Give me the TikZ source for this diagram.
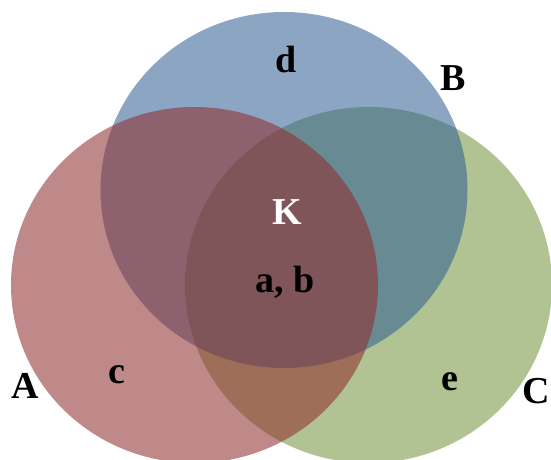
\documentclass[tikz,border=0pt]{standalone}
\usepackage{fontspec}
\setmainfont{Liberation Serif}
\usepackage{tikz}

\definecolor{setred}{RGB}{145,47,47}
\definecolor{setblue}{RGB}{51,96,149}
\definecolor{setgreen}{RGB}{117,149,63}

\begin{document}
\begin{tikzpicture}[x=1pt, y=-1pt,
    region/.style={fill opacity=0.57},
    lbl/.style={font=\fontsize{38}{38}\selectfont\bfseries, anchor=base, inner sep=0pt}]
  \useasboundingbox (0,0) rectangle (551,459);
  \clip (0,0) rectangle (551,459);

  % Sets (green under, red on top)
  \fill[region, setgreen] (368.5,285) ellipse [x radius=183.5pt, y radius=178pt];
  \fill[region, setblue] (284,190) ellipse [x radius=183.5pt, y radius=178pt];
  \fill[region, setred] (194.5,285) ellipse [x radius=183.5pt, y radius=178pt];

  % Set names
  \node[lbl] (nameA) at (25.5,398) {A};
  \node[lbl] (nameB) at (453.5,90) {B};
  \node[lbl, anchor=base east] (nameC) at (550.5,403) {C};

  % Elements
  \node[lbl, white] (core) at (287,224) {K};
  \node[lbl] (elemab) at (285,292) {a, b};
  \node[lbl] (elemc) at (117,383) {c};
  \node[lbl] (elemd) at (286,72) {d};
  \node[lbl] (eleme) at (450,390) {e};
\end{tikzpicture}
\end{document}
